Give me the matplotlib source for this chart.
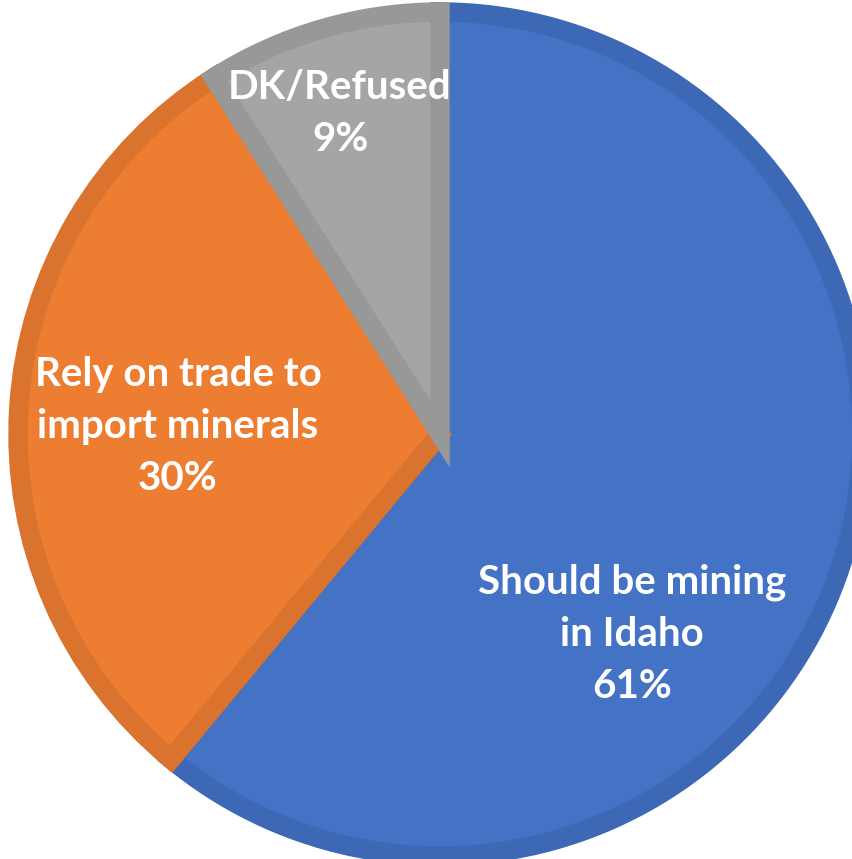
import matplotlib.pyplot as plt

# datos del grafico
labels = ['Should be mining\nin Idaho', 'Rely on trade to\nimport minerals', 'DK/Refused']
values = [61, 30, 9]
colors = ['#4472C4', '#ED7D31', '#A5A5A5']
edges = ['#3D68B6', '#DA732D', '#989898']

fig = plt.figure(figsize=(8.52, 8.59), dpi=100)
ax = fig.add_axes([0, 0, 1, 1])

wedges, _ = ax.pie(values, colors=colors, startangle=90, counterclock=False,
                   radius=1.0, center=(0, 0))

# borde interior mas oscuro (estilo Excel), recortado a cada sector
for w, ec in zip(wedges, edges):
    w.set_edgecolor(ec)
    w.set_linewidth(14)
    w.set_clip_path(w)

# posiciones de las etiquetas en coordenadas del eje
cx, cy, r = 440, 434, 422
W, H = 852, 859
ax.set_xlim(-cx / r, (W - cx) / r)
ax.set_ylim(-(H - cy) / r, cy / r)
ax.set_aspect('auto')
ax.axis('off')

def px(x, y):
    return (x - cx) / r, (cy - y) / r

label_pos = [px(632, 634), px(178, 426), px(340, 113)]
for lab, v, (x, y) in zip(labels, values, label_pos):
    ax.text(x, y, f'{lab}\n{v}%', ha='center', va='center', color='white',
            fontsize=29, fontweight='bold', family=['Lato', 'DejaVu Sans'],
            linespacing=1.5)

fig.savefig('out.png', dpi=100)
